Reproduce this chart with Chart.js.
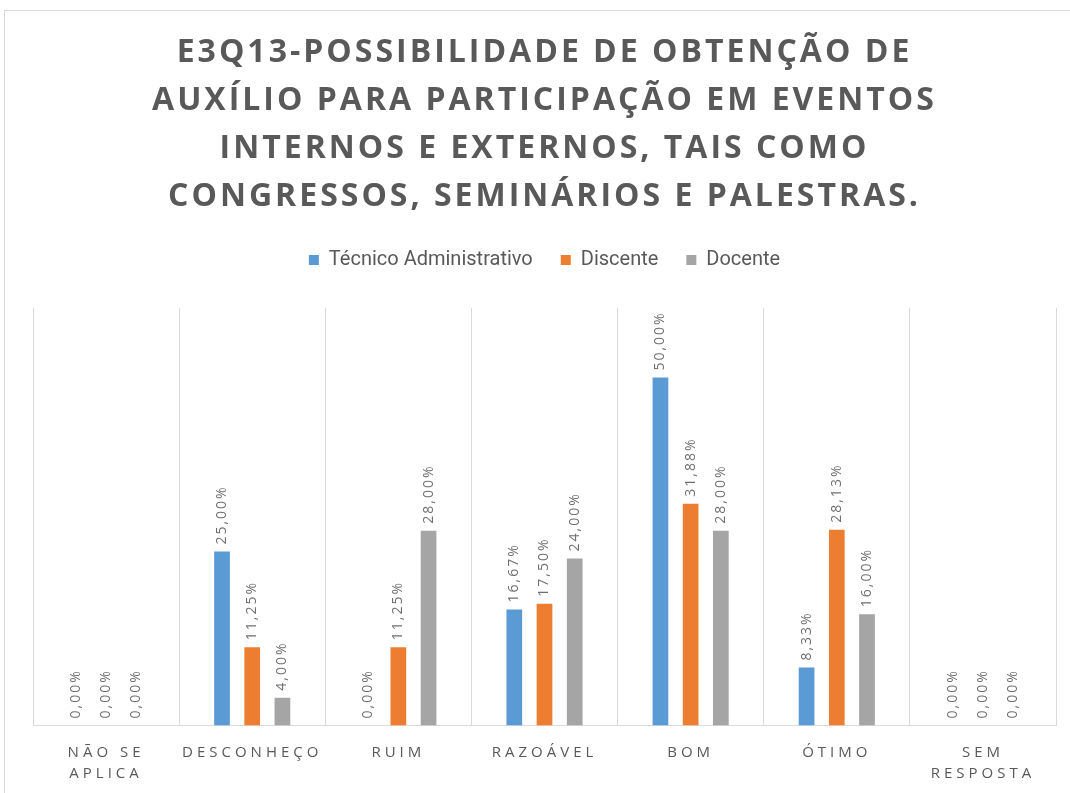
<!DOCTYPE html>
<html>
<head>
<meta charset="utf-8">
<script src="https://cdn.jsdelivr.net/npm/chart.js@4.4.1/dist/chart.umd.min.js"></script>
<style>
  html, body { margin: 0; padding: 0; background: #fff; }
  #wrap { position: relative; width: 1070px; height: 793px; overflow: hidden; }
  #frame { position: absolute; left: 4px; top: 10px; width: 1100px; height: 820px; border: 1px solid #d9d9d9; }
  #chart { position: absolute; left: 0; top: 0; }
</style>
</head>
<body>
<div id="wrap">
  <div id="frame"></div>
  <canvas id="chart" width="1070" height="793"></canvas>
</div>
<script>
  const categories = [
    ['NÃO SE', 'APLICA'],
    'DESCONHEÇO',
    'RUIM',
    'RAZOÁVEL',
    'BOM',
    'ÓTIMO',
    ['SEM', 'RESPOSTA']
  ];
  const tecnicoValues = [0, 25.00, 0, 16.67, 50.00, 8.33, 0];
  const discenteValues = [0, 11.25, 11.25, 17.50, 31.88, 28.13, 0];
  const docenteValues = [0, 4.00, 28.00, 24.00, 28.00, 16.00, 0];

  const titleLines = [
    'E3Q13-POSSIBILIDADE DE OBTENÇÃO DE',
    'AUXÍLIO PARA PARTICIPAÇÃO EM EVENTOS',
    'INTERNOS E EXTERNOS, TAIS COMO',
    'CONGRESSOS, SEMINÁRIOS E PALESTRAS.'
  ];

  function fmt(v) {
    return v.toFixed(2).replace('.', ',') + '%';
  }

  // wrap a draw function so it runs with canvas letter spacing
  function wrapSpacing(obj, fn, sp) {
    if (!obj || obj['_sp_' + fn]) return;
    const orig = obj[fn];
    obj[fn] = function (...args) {
      const ctx = this.ctx;
      ctx.save();
      ctx.letterSpacing = sp;
      orig.apply(this, args);
      ctx.restore();
    };
    obj['_sp_' + fn] = true;
  }

  const spacingPlugin = {
    id: 'spacing',
    beforeLayout(chart) {
      // leave more room under the legend than above it
      const lg = chart.legend;
      if (lg && !lg._extraFit) {
        const origFit = lg.fit;
        lg.fit = function () {
          origFit.call(this);
          this.height += 28;
        };
        lg._extraFit = true;
      }
    },
    beforeDraw(chart) {
      wrapSpacing(chart.titleBlock, 'draw', '3px');
      wrapSpacing(chart.scales.x, 'drawLabels', '4px');
    }
  };

  // rotated value labels above each bar
  const valueLabels = {
    id: 'valueLabels',
    afterDatasetsDraw(chart) {
      const ctx = chart.ctx;
      ctx.save();
      ctx.font = '14px "Open Sans", sans-serif';
      ctx.fillStyle = '#6f6f6f';
      ctx.letterSpacing = '2px';
      ctx.textAlign = 'left';
      ctx.textBaseline = 'middle';
      chart.data.datasets.forEach((ds, i) => {
        chart.getDatasetMeta(i).data.forEach((bar, j) => {
          ctx.save();
          ctx.translate(bar.x, bar.y - 7);
          ctx.rotate(-Math.PI / 2);
          ctx.fillText(fmt(ds.data[j]), 0, 0);
          ctx.restore();
        });
      });
      ctx.restore();
    }
  };

  new Chart(document.getElementById('chart'), {
    type: 'bar',
    data: {
      labels: categories,
      datasets: [
        { label: 'Técnico Administrativo', data: tecnicoValues, backgroundColor: '#5B9BD5' },
        { label: 'Discente', data: discenteValues, backgroundColor: '#ED7D31' },
        { label: 'Docente', data: docenteValues, backgroundColor: '#A5A5A5' }
      ]
    },
    options: {
      responsive: false,
      animation: false,
      categoryPercentage: 0.62,
      barPercentage: 0.52,
      layout: { padding: { left: 33, right: 14, top: 0, bottom: -8 } },
      plugins: {
        title: {
          display: true,
          text: titleLines,
          color: '#595959',
          font: { family: '"Open Sans", sans-serif', size: 32, weight: 'bold', lineHeight: 1.5 },
          padding: { top: 29, bottom: 1 }
        },
        legend: {
          display: true,
          labels: {
            color: '#595959',
            font: { family: 'Roboto, sans-serif', size: 20 },
            boxWidth: 10,
            boxHeight: 10,
            padding: 28
          }
        },
        tooltip: { enabled: false }
      },
      scales: {
        x: {
          grid: { display: true, color: '#d9d9d9', drawTicks: false, offset: true },
          border: { display: true, color: '#d9d9d9' },
          ticks: {
            color: '#595959',
            font: { family: '"Open Sans", sans-serif', size: 15, lineHeight: 1.45 },
            padding: 16,
            maxRotation: 0
          }
        },
        y: {
          display: false,
          min: 0,
          max: 60
        }
      }
    },
    plugins: [spacingPlugin, valueLabels]
  });
</script>
</body>
</html>
